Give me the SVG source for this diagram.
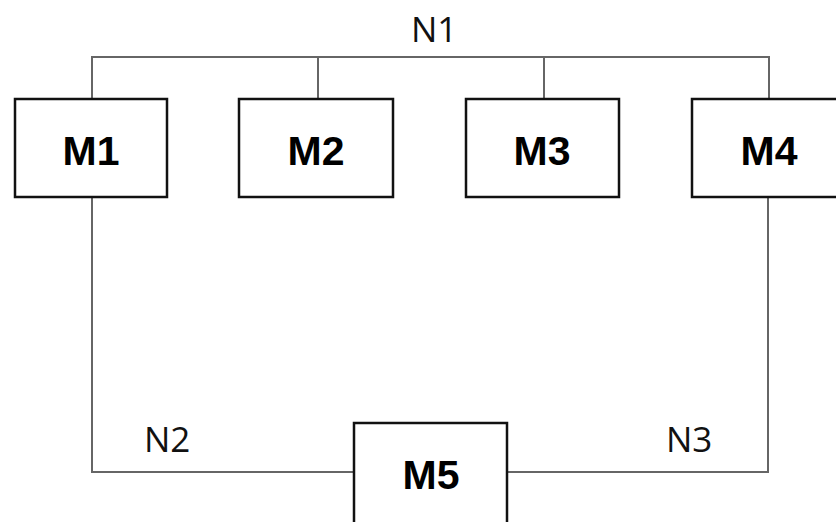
<svg xmlns="http://www.w3.org/2000/svg" width="836" height="522" viewBox="0 0 836 522">
<style>
.box{fill:#fff;stroke:#111;stroke-width:2.5}
.wire{fill:none;stroke:#666;stroke-width:2}
.lbl{font-family:"Liberation Sans",Arial,sans-serif;font-weight:bold;font-size:41px;fill:#000;text-anchor:middle}
.net{font-family:"Open Sans","Liberation Sans",sans-serif;font-size:35px;fill:#111}
</style>
<rect width="836" height="522" fill="#fff"/>
<g id="connectors">
<path class="wire" d="M92 99 V57 H769 V99"/>
<path class="wire" d="M318 57 V99"/>
<path class="wire" d="M544 57 V99"/>
<path class="wire" d="M92 197 V472 H354"/>
<path class="wire" d="M507 472 H768 V197"/>
</g>
<g id="N1"><text class="net" x="411" y="42">N1</text></g>
<g id="N2"><text class="net" x="144" y="452">N2</text></g>
<g id="N3"><text class="net" x="666" y="452">N3</text></g>
<g id="M1"><rect class="box" x="15" y="99" width="152" height="98"/><text class="lbl" x="91" y="165">M1</text></g>
<g id="M2"><rect class="box" x="239" y="99" width="154" height="98"/><text class="lbl" x="316" y="165">M2</text></g>
<g id="M3"><rect class="box" x="466" y="99" width="153" height="98"/><text class="lbl" x="542" y="165">M3</text></g>
<g id="M4"><rect class="box" x="692" y="99" width="160" height="98"/><text class="lbl" x="769" y="165">M4</text></g>
<g id="M5"><rect class="box" x="354" y="423" width="153" height="110"/><text class="lbl" x="431" y="489">M5</text></g>
</svg>
